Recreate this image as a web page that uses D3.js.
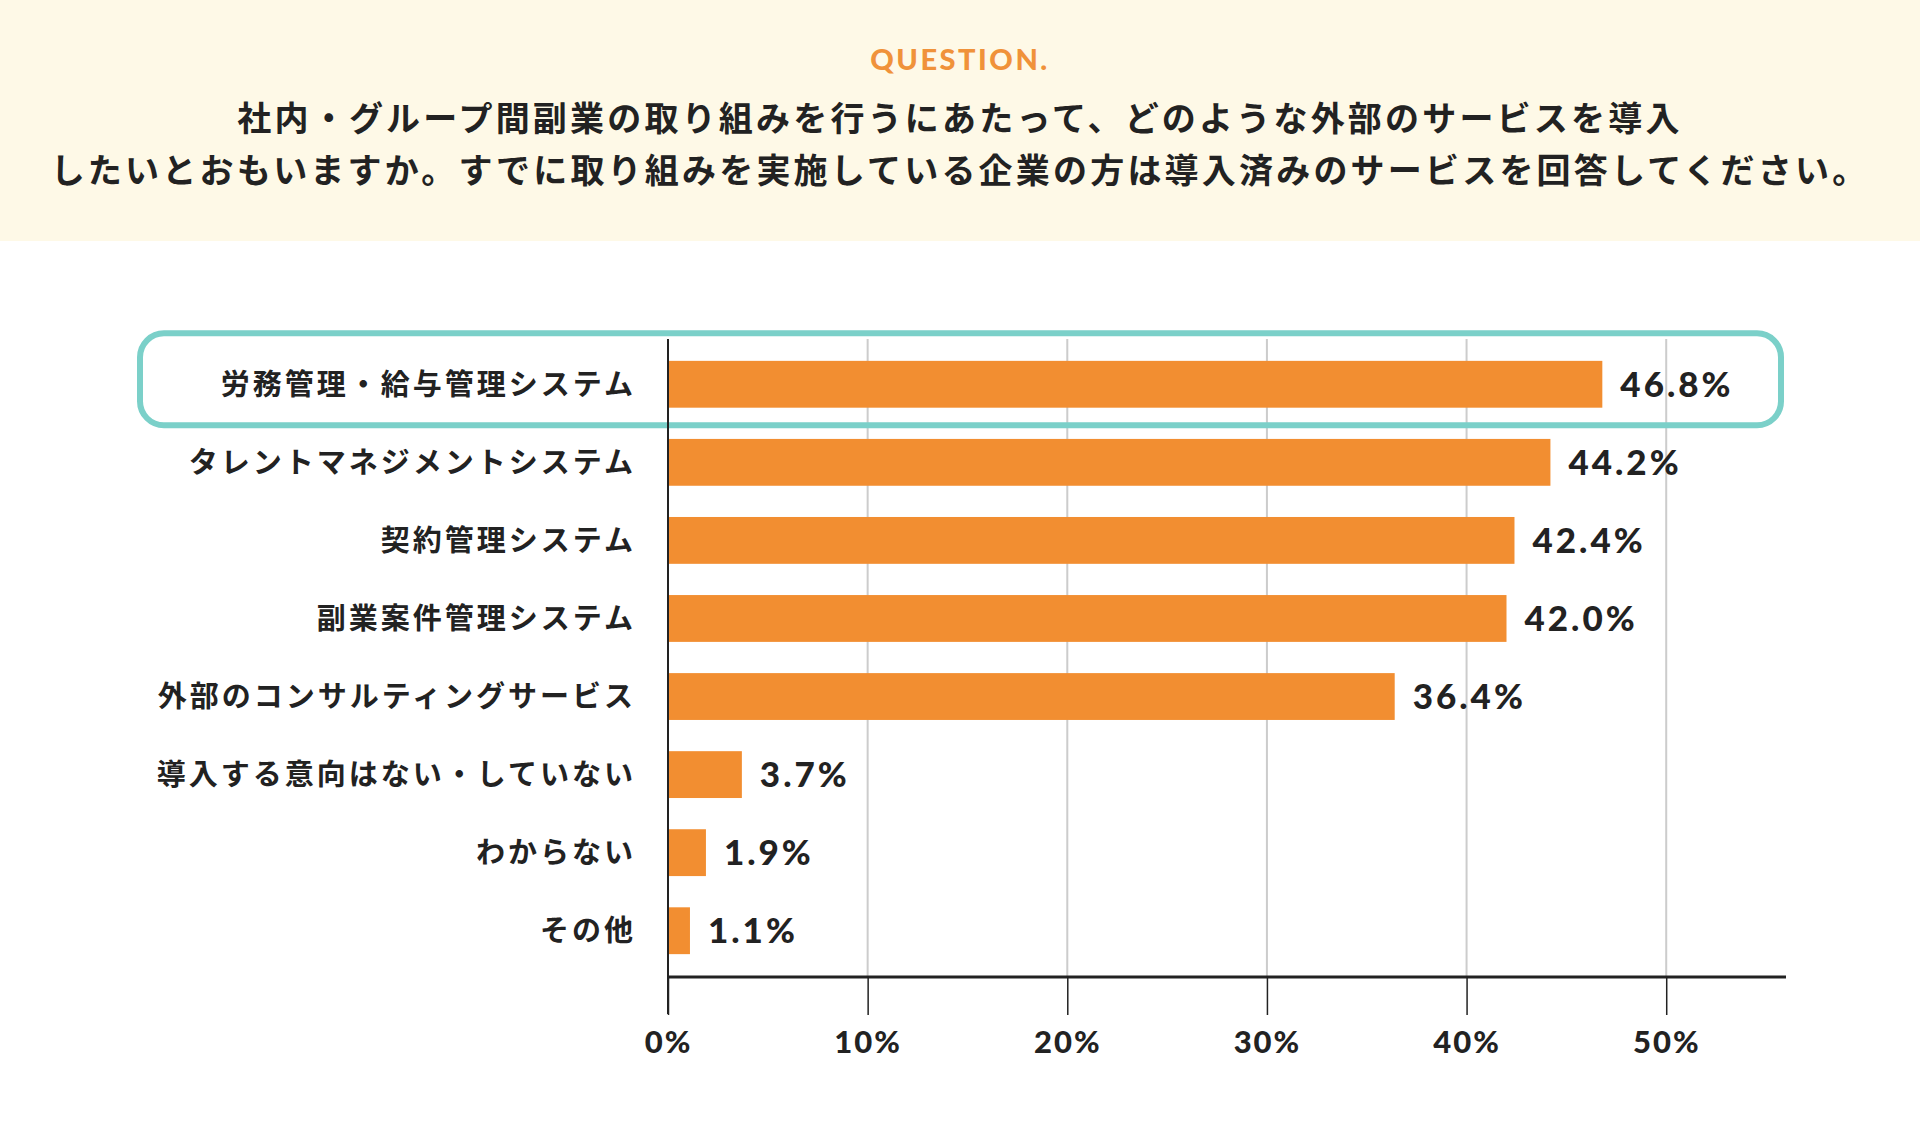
<!doctype html>
<html lang="ja">
  <head>
    <meta charset="utf-8">
    <title>外部サービス導入意向</title>
    <script src="https://d3js.org/d3.v7.min.js"></script>
    <style>
    body {
      margin: 0;
      background: #fff;
    }

    .jp {
      font-family: "Noto Sans CJK JP", "Noto Sans", sans-serif;
      font-weight: 700;
      fill: #222;
    }

    .num {
      font-family: Lato, "Noto Sans", sans-serif;
      font-weight: 700;
      fill: #222;
    }
    </style>
  </head>

  <body>
    <svg width="1920" height="1138"></svg>

    <script>
      var questionTag = 'QUESTION.';
      var questionLines = [
        '社内・グループ間副業の取り組みを行うにあたって、どのような外部のサービスを導入',
        'したいとおもいますか。すでに取り組みを実施している企業の方は導入済みのサービスを回答してください。'
      ];

      var categories = [
        '労務管理・給与管理システム',
        'タレントマネジメントシステム',
        '契約管理システム',
        '副業案件管理システム',
        '外部のコンサルティングサービス',
        '導入する意向はない・していない',
        'わからない',
        'その他'
      ];
      var values = [46.8, 44.2, 42.4, 42.0, 36.4, 3.7, 1.9, 1.1];
      var ticks = [0, 10, 20, 30, 40, 50];
      var highlighted = '労務管理・給与管理システム';

      var svg = d3.select('svg');

      // header band
      svg.append('rect')
        .attr('x', 0).attr('y', 0)
        .attr('width', 1920).attr('height', 241)
        .attr('fill', '#fef9e7');

      svg.append('text')
        .attr('class', 'num')
        .attr('x', 960).attr('y', 70)
        .attr('text-anchor', 'middle')
        .style('font-size', '29px')
        .style('font-weight', 900)
        .style('letter-spacing', '2.5px')
        .style('fill', '#f0923a')
        .text(questionTag);

      svg.selectAll('text.q')
        .data(questionLines)
        .enter()
        .append('text')
          .attr('class', 'jp q')
          .attr('x', 960)
          .attr('y', function(d, i){ return 131 + i * 52; })
          .attr('text-anchor', 'middle')
          .style('font-size', '34px')
          .style('letter-spacing', '3.2px')
          .text(function(d){ return d; });

      var x = d3.scaleLinear()
        .domain([0, 56])
        .range([668, 1786]);

      var y = d3.scaleBand()
        .domain(categories)
        .range([339, 976])
        .paddingInner(0.4)
        .paddingOuter(0.28);

      // gridlines
      svg.append('g').selectAll('line')
        .data(ticks.slice(1))
        .enter()
        .append('line')
          .attr('x1', function(d){ return x(d); })
          .attr('x2', function(d){ return x(d); })
          .attr('y1', 339).attr('y2', 976)
          .attr('stroke', '#cccccc')
          .attr('stroke-width', 2);

      // highlight box around the first row
      var hy = y(highlighted) + y.bandwidth() / 2;
      svg.append('rect')
        .attr('x', 140).attr('y', hy - 51)
        .attr('width', 1641).attr('height', 92)
        .attr('rx', 24)
        .attr('fill', 'none')
        .attr('stroke', '#7bd0c9')
        .attr('stroke-width', 6);

      svg.append('g').selectAll('rect')
        .data(values)
        .enter()
        .append('rect')
          .attr('x', x(0))
          .attr('y', function(d, i){ return y(categories[i]); })
          .attr('width', function(d){ return x(d) - x(0); })
          .attr('height', y.bandwidth())
          .attr('fill', '#f28e31');

      svg.append('g').selectAll('text')
        .data(values)
        .enter()
        .append('text')
          .attr('class', 'num')
          .attr('x', function(d){ return x(d) + 18; })
          .attr('y', function(d, i){ return y(categories[i]) + y.bandwidth() / 2; })
          .attr('dy', '0.36em')
          .style('font-size', '35px')
          .style('font-weight', 900)
          .style('letter-spacing', '3px')
          .text(function(d){ return d.toFixed(1) + '%'; });

      svg.append('g').selectAll('text')
        .data(categories)
        .enter()
        .append('text')
          .attr('class', 'jp')
          .attr('x', 636)
          .attr('y', function(d){ return y(d) + y.bandwidth() / 2; })
          .attr('dy', '0.36em')
          .attr('text-anchor', 'end')
          .style('font-size', '29px')
          .style('letter-spacing', '3px')
          .text(function(d){ return d; });

      // axes
      svg.append('line')
        .attr('x1', x(0)).attr('x2', x(0))
        .attr('y1', 339).attr('y2', 1014)
        .attr('stroke', '#222').attr('stroke-width', 2);

      var xAxis = d3.axisBottom(x)
        .tickValues(ticks)
        .tickSize(38)
        .tickPadding(16)
        .tickFormat(function(d){ return d + '%'; });

      var gx = svg.append('g')
        .attr('transform', 'translate(0, 977)')
        .call(xAxis);

      gx.select('.domain')
        .attr('d', 'M' + x(0) + ',0H' + 1786)
        .attr('stroke', '#222')
        .attr('stroke-width', 3);

      gx.selectAll('.tick line')
        .attr('stroke', '#222')
        .attr('stroke-width', 1.5);

      gx.selectAll('.tick text')
        .attr('class', 'num')
        .style('font-size', '31px')
        .style('font-weight', 900)
        .style('letter-spacing', '2px')
        .style('fill', '#222');
    </script>
  </body>
</html>
